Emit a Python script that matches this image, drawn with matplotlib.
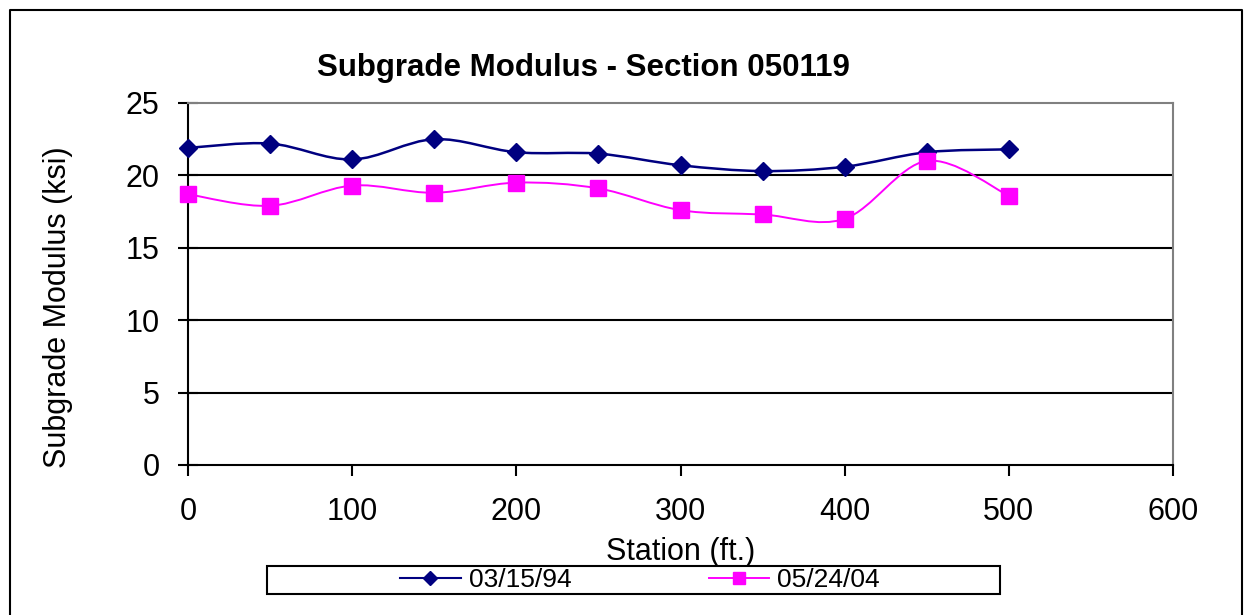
import numpy as np
import matplotlib
matplotlib.use("Agg")
import matplotlib.pyplot as plt
from matplotlib.path import Path
from matplotlib.patches import PathPatch, Rectangle
from matplotlib.lines import Line2D

station = [0, 50, 100, 150, 200, 250, 300, 350, 400, 450, 500]
mod_1994 = [21.9, 22.2, 21.1, 22.5, 21.6, 21.5, 20.7, 20.3, 20.6, 21.6, 21.8]
mod_2004 = [18.7, 17.9, 19.3, 18.8, 19.5, 19.1, 17.6, 17.3, 17.0, 21.0, 18.6]
labels = ["03/15/94", "05/24/04"]

plt.rcParams['font.family'] = ['Liberation Sans', 'DejaVu Sans']

W, H = 1245, 615
fig = plt.figure(figsize=(W / 100, H / 100), dpi=100)
ax = fig.add_axes([188 / W, 1 - 465 / H, (1173 - 188) / W, (465 - 103) / H])


def smooth_path(x, y):
    # excel-like smoothed line as cubic bezier segments
    x = np.asarray(x, float)
    y = np.asarray(y, float)
    n = len(x)
    verts = [(x[0], y[0])]
    codes = [Path.MOVETO]
    for i in range(n - 1):
        p0 = max(i - 1, 0)
        p3 = min(i + 2, n - 1)
        c1 = (x[i] + (x[i + 1] - x[p0]) / 6, y[i] + (y[i + 1] - y[p0]) / 6)
        c2 = (x[i + 1] - (x[p3] - x[i]) / 6, y[i + 1] - (y[p3] - y[i]) / 6)
        verts += [c1, c2, (x[i + 1], y[i + 1])]
        codes += [Path.CURVE4] * 3
    return Path(verts, codes)


ax.add_patch(PathPatch(smooth_path(station, mod_1994), fill=False, edgecolor='#000080', lw=1.8, zorder=3))
ax.add_patch(PathPatch(smooth_path(station, mod_2004), fill=False, edgecolor='#ff00ff', lw=1.4, zorder=3))
ax.plot(station, mod_1994, ls='none', marker='D', ms=9, color='#000080', zorder=4, clip_on=False)
ax.plot(station, mod_2004, ls='none', marker='s', ms=12, color='#ff00ff', zorder=4, clip_on=False)

ax.set_xlim(0, 600)
ax.set_ylim(0, 25)
ax.set_xticks(range(0, 601, 100))
ax.set_yticks(range(0, 26, 5))
for yy in [5, 10, 15, 20]:
    ax.axhline(yy, color='black', lw=1.5, zorder=1)

for s in ['top', 'right']:
    ax.spines[s].set_color('#808080')
    ax.spines[s].set_linewidth(1.5)
for s in ['left', 'bottom']:
    ax.spines[s].set_color('black')
    ax.spines[s].set_linewidth(1.5)
ax.tick_params(axis='y', direction='inout', length=15, width=1.5, labelsize=22, pad=13)
ax.tick_params(axis='x', direction='out', length=8, width=1.5, labelsize=22, pad=15)

ax.set_xlabel('Station (ft.)', fontsize=22, labelpad=7)
ax.set_ylabel('Subgrade Modulus (ksi)', fontsize=22)
ax.yaxis.set_label_coords(73 / W, 0.5, transform=fig.transFigure)
fig.text(583 / W, 1 - 68 / H, 'Subgrade Modulus - Section 050119', ha='center', va='center',
         fontsize=22.5, fontweight='bold')

# legend box
fig.add_artist(Rectangle((267 / W, 1 - 594 / H), (1000 - 267) / W, 28 / H, transform=fig.transFigure,
                         fill=False, edgecolor='black', lw=1.5))
h1 = Line2D([], [], color='#000080', marker='D', ms=7, lw=1.5)
h2 = Line2D([], [], color='#ff00ff', marker='s', ms=9, lw=1.4)
leg = fig.legend([h1, h2], labels, ncol=2, fontsize=19, frameon=False,
                 bbox_to_anchor=(640 / W, 1 - 580 / H), loc='center',
                 borderpad=0, handlelength=2.3, handletextpad=0.3, columnspacing=5.2,
                 borderaxespad=0)

# outer chart border (bottom edge is cut off)
fig.add_artist(Line2D([10 / W, 10 / W, 1242 / W, 1242 / W], [-0.1, 1 - 10 / H, 1 - 10 / H, -0.1],
                      transform=fig.transFigure, color='black', lw=1.5))

fig.savefig('out.png', dpi=100)
print("graph done")
